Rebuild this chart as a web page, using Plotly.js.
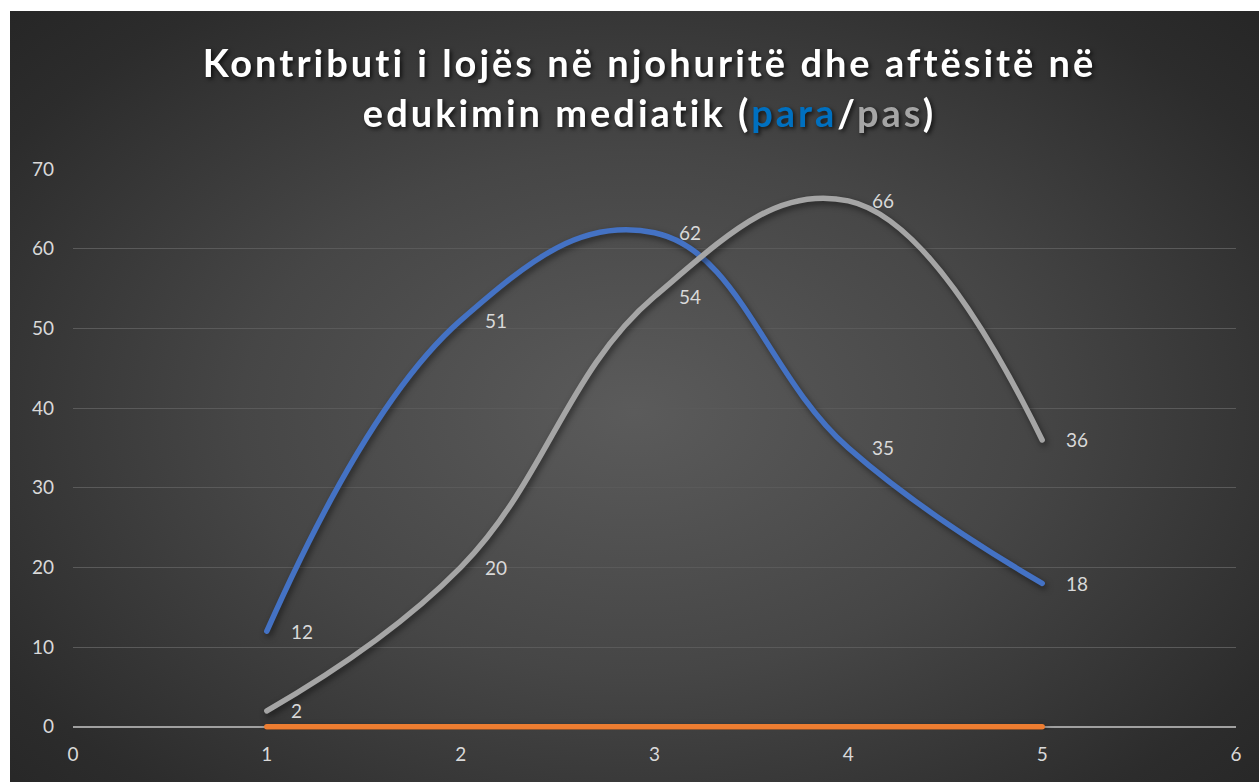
<!DOCTYPE html>
<html>
<head>
<meta charset="utf-8">
<script src="https://cdn.plot.ly/plotly-3.0.1.min.js"></script>
<style>
  html, body { margin:0; padding:0; background:#ffffff; width:1259px; height:782px; overflow:hidden; }
  #chart { position:absolute; left:10px; top:11px; width:1249px; height:771px;
    background: radial-gradient(ellipse 70% 75% at 50% 52%, #5b5b5b 0%, #464646 45%, #2c2c2c 85%, #262626 100%); }
  .gtitle { letter-spacing: 3px; filter: drop-shadow(2px 2px 2px rgba(0,0,0,0.7)); }
  .scatterlayer .js-line { stroke-linecap: round; filter: drop-shadow(2px 3px 3px rgba(0,0,0,0.5)); }
</style>
</head>
<body>
<div id="chart"></div>
<script>
const xValues = [1, 2, 3, 4, 5];
const paraValues = [12, 51, 62, 35, 18];
const pasValues = [2, 20, 54, 66, 36];
const baseValues = [0, 0, 0, 0, 0];
const yTicks = [0, 10, 20, 30, 40, 50, 60, 70];
const xTicks = [0, 1, 2, 3, 4, 5, 6];
const titleText = 'Kontributi i lojës në njohuritë dhe aftësitë në<br>edukimin mediatik (<span style="color:#0070C0">para</span>/<span style="color:#A5A5A5">pas</span>)';

const lineW = 5.5;
const fontFam = 'Lato, "Open Sans", sans-serif';
const traces = [
  { x: xValues, y: baseValues, mode: 'lines', line: { color: '#ED7D31', width: lineW }, hoverinfo: 'skip' },
  { x: xValues, y: paraValues, mode: 'lines', line: { color: '#4472C4', width: lineW, shape: 'spline', smoothing: 1.2 }, hoverinfo: 'skip' },
  { x: xValues, y: pasValues, mode: 'lines', line: { color: '#A5A5A5', width: lineW, shape: 'spline', smoothing: 1.2 }, hoverinfo: 'skip' }
];

const annotations = [];
[paraValues, pasValues].forEach(arr => {
  arr.forEach((v, i) => {
    annotations.push({ x: xValues[i], y: v, xref: 'x', yref: 'y', text: String(v), showarrow: false,
      xanchor: 'left', yanchor: 'middle', xshift: 22, font: { family: fontFam, size: 19, color: '#d9d9d9' } });
  });
});

const layout = {
  width: 1249, height: 771,
  paper_bgcolor: 'rgba(0,0,0,0)', plot_bgcolor: 'rgba(0,0,0,0)',
  showlegend: false,
  margin: { l: 63, r: 23, t: 158, b: 52 },
  title: { text: titleText, x: 0.512, xanchor: 'center', y: 0.914, yanchor: 'top',
    font: { family: fontFam, size: 38, color: '#ffffff', weight: 'bold' } },
  xaxis: { range: [0, 6], tickvals: xTicks, ticktext: xTicks.map(String), showgrid: false, zeroline: false,
    showline: false, ticks: '', ticklabelstandoff: 11,
    tickfont: { family: fontFam, size: 19, color: '#d9d9d9' } },
  yaxis: { range: [-0.4, 70], tickvals: yTicks, ticktext: yTicks.map(String), showgrid: true, gridcolor: '#5a5a5a', gridwidth: 1,
    zeroline: true, zerolinecolor: '#a0a0a0', zerolinewidth: 2, showline: false, ticks: '', ticklabelstandoff: 18,
    tickfont: { family: fontFam, size: 19, color: '#d9d9d9' } },
  annotations: annotations
};

Plotly.newPlot('chart', traces, layout, { displayModeBar: false, staticPlot: true });
</script>
</body>
</html>
